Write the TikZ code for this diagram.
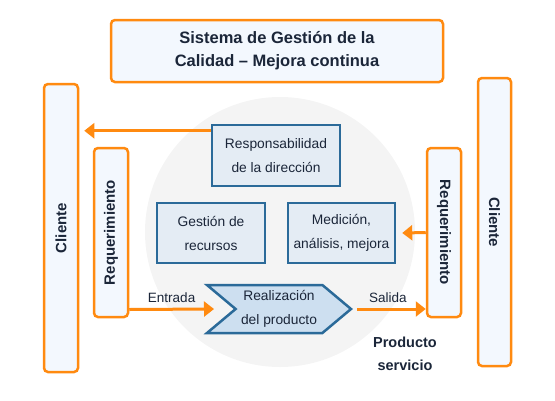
\documentclass[tikz,border=0pt]{standalone}
\usepackage{fontspec}
\setmainfont{Liberation Sans}
\usetikzlibrary{arrows.meta,shapes.symbols,calc}
\definecolor{naranja}{HTML}{FF8A10}
\definecolor{azul}{HTML}{2B6A99}
\definecolor{celeste}{HTML}{E4ECF4}
\definecolor{celesteos}{HTML}{CDDFF0}
\definecolor{fondo}{HTML}{F3F8FE}
\definecolor{gris}{HTML}{F4F4F4}
\definecolor{texto}{HTML}{1B2639}
\begin{document}
\begin{tikzpicture}[x=1pt, y=-1pt,
    caja/.style={draw=naranja, line width=2.5pt, rounded corners=4pt, fill=fondo, text=texto, inner sep=0pt},
    proc/.style={draw=azul, line width=2.5pt, fill=celeste, text=texto, align=center, inner sep=0pt, font=\fontsize{13.8}{24}\selectfont},
    flecha/.style={draw=naranja, line width=3pt, -{Triangle[length=10pt,width=15pt]}},
    etiq/.style={text=texto, font=\fontsize{13.5}{15}\selectfont}]
  \useasboundingbox (0,0) rectangle (555,400);

  \node[circle, fill=gris, minimum size=270pt, inner sep=0pt] (circulo) at (280,232) {};

  \node[caja, minimum width=332pt, minimum height=62pt, align=center, font=\bfseries\fontsize{16.5}{23}\selectfont] (titulo) at (277,51) {Sistema de Gestión de la\\Calidad -- Mejora continua};

  \node[caja, minimum width=34pt, minimum height=288pt, font=\bfseries\fontsize{15}{15}\selectfont] (cliL) at (61,228) {\rotatebox{90}{Cliente}};
  \node[caja, minimum width=34pt, minimum height=169pt, font=\bfseries\fontsize{15}{15}\selectfont] (reqL) at (111,232.5) {\rotatebox{90}{Requerimiento}};
  \node[caja, minimum width=34pt, minimum height=169pt, font=\bfseries\fontsize{15}{15}\selectfont] (reqR) at (444,232.5) {\rotatebox{-90}{Requerimiento}};
  \node[caja, minimum width=33pt, minimum height=288pt, font=\bfseries\fontsize{15}{15}\selectfont] (cliR) at (494.5,222) {\rotatebox{-90}{Cliente}};

  \node[proc, minimum width=128pt, minimum height=61pt] (resp) at (276,155.5) {Responsabilidad\\de la dirección};
  \node[proc, minimum width=108pt, minimum height=60pt] (gest) at (211,233) {Gestión de\\recursos};
  \node[proc, minimum width=107pt, minimum height=60pt] (med) at (341.5,233) {Medición,\\análisis, mejora};
  \node[proc, fill=celesteos, signal, signal from=west, signal to=east, signal pointer angle=80, minimum width=144pt, minimum height=48pt] (real) at (279,309) {Realización\\del producto};

  \draw[flecha] ([yshift=-7pt]resp.north west) -- ($(cliL.east |- resp.north west)+(5,7)$);
  \draw[flecha] (reqR.west) -- ([xshift=6pt]med.east);
  \draw[flecha] ([yshift=-77pt]reqL.east) -- ($(real.center)+(-65,0)$) node[etiq, pos=0.5, above=2pt] (entrada) {Entrada};
  \draw[flecha] ($(real.center)+(78,0)$) -- (reqR.west |- real.center) node[etiq, pos=0.45, above=2pt] (salida) {Salida};

  \node[etiq, align=center, font=\bfseries\fontsize{14.5}{23}\selectfont] (prod) at (405,354) {Producto\\servicio};
\end{tikzpicture}
\end{document}
